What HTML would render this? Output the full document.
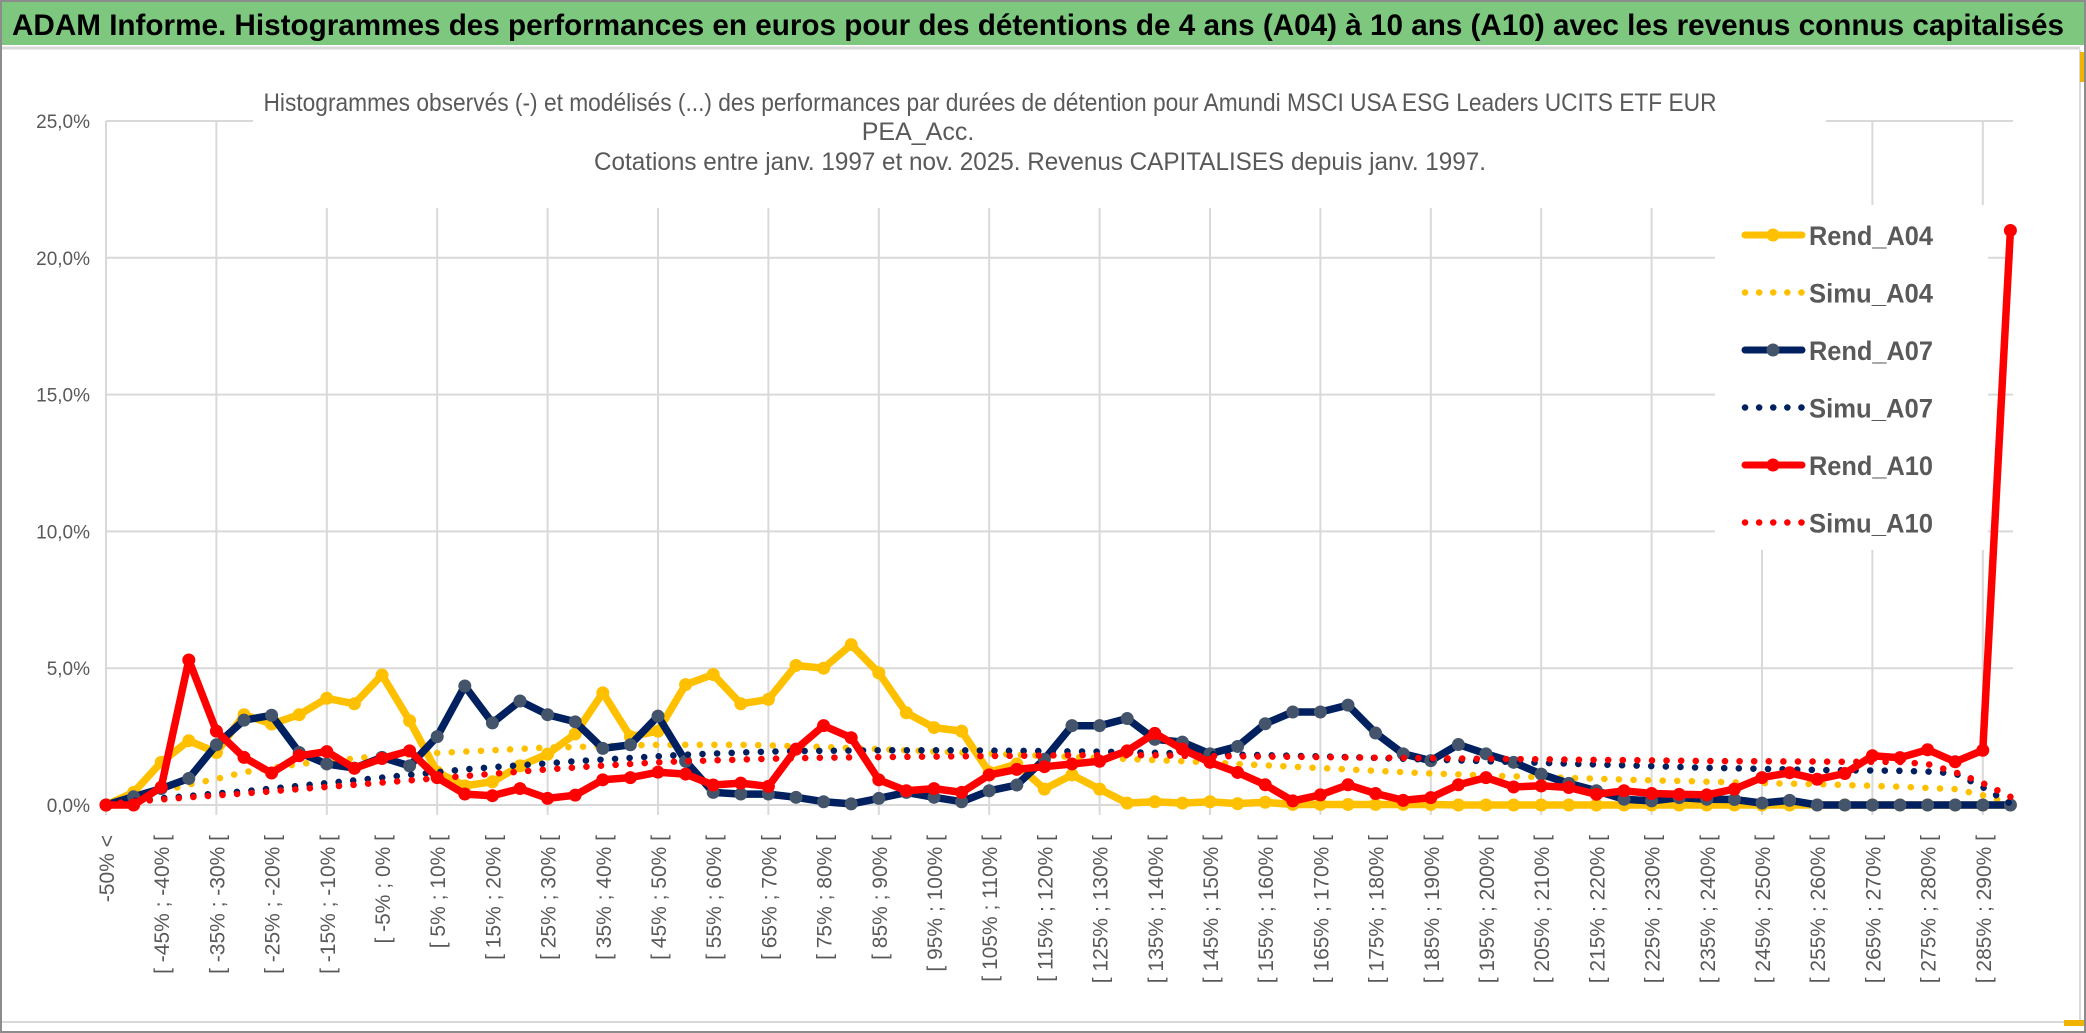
<!DOCTYPE html>
<html><head><meta charset="utf-8">
<style>
html,body{margin:0;padding:0;background:#fff;}
svg{display:block;}
text{font-family:"Liberation Sans",sans-serif;}
</style></head>
<body>
<svg id="chart" width="2086" height="1033" viewBox="0 0 2086 1033" xmlns="http://www.w3.org/2000/svg">
  <rect x="0" y="0" width="2086" height="1033" fill="#fff"/>
  <rect x="1" y="1" width="2084" height="1031" fill="none" stroke="#8c8c8c" stroke-width="2"/>
  <rect x="2" y="2" width="2082" height="43" fill="#7dc87e"/>
  <line x1="2" y1="48" x2="2080" y2="48" stroke="#d9d9d9" stroke-width="3"/>
  <text x="12" y="35" font-size="30" font-weight="bold" fill="#000" textLength="2052" lengthAdjust="spacingAndGlyphs">ADAM Informe. Histogrammes des performances en euros pour des détentions de 4 ans (A04) à 10 ans (A10) avec les revenus connus capitalisés</text>
  <line x1="2080" y1="50" x2="2080" y2="1022" stroke="#d9d9d9" stroke-width="2"/>
  <line x1="2" y1="1022" x2="2080" y2="1022" stroke="#d9d9d9" stroke-width="2"/>
  <rect x="2080" y="52" width="4" height="30" fill="#f0b400"/>
  <rect x="2064" y="1020" width="20" height="6" fill="#f0b400"/>
  <g id="grid"></g>
  <rect x="253" y="55" width="1573" height="153" fill="#fff"/>
  <text x="990" y="111" font-size="25" fill="#595959" text-anchor="middle" textLength="1453" lengthAdjust="spacingAndGlyphs">Histogrammes observés (-) et modélisés (...) des performances par durées de détention pour Amundi MSCI USA ESG Leaders UCITS ETF EUR</text>
  <text x="918" y="140" font-size="25" fill="#595959" text-anchor="middle">PEA_Acc.</text>
  <text x="1040" y="170" font-size="25" fill="#595959" text-anchor="middle" textLength="892" lengthAdjust="spacingAndGlyphs">Cotations entre janv. 1997 et nov. 2025. Revenus CAPITALISES depuis janv. 1997.</text>
  <g id="yticks"></g>
  <g id="xticks"></g>
  <g id="series"></g>
  <rect x="1715" y="205" width="273" height="345" fill="#fff"/>
  <g id="legend"></g>
</svg>
<script>
const categories = ["-50% <"];
for (let k = 1; k < 70; k++) {
  const a = -50 + 5 * (k - 1);
  categories.push("[ " + a + "% ; " + (a + 5) + "% [");
}
const yTicks = [0, 5, 10, 15, 20, 25];
const yTickLabels = ["0,0%", "5,0%", "10,0%", "15,0%", "20,0%", "25,0%"];
const seriesNames = ["Rend_A04", "Simu_A04", "Rend_A07", "Simu_A07", "Rend_A10", "Simu_A10"];

const rendA04 = [0,0.46,1.56,2.35,1.92,3.3,2.96,3.3,3.9,3.7,4.75,3.08,1.2,0.7,0.85,1.43,1.86,2.6,4.1,2.5,2.7,4.4,4.77,3.7,3.86,5.1,5.0,5.86,4.83,3.37,2.83,2.7,1.2,1.5,0.58,1.1,0.58,0.07,0.12,0.07,0.12,0.05,0.1,0.02,0.02,0.02,0.02,0.02,0.02,0,0,0,0,0,0,0,0,0,0,0,0,0,0,0,0,0,0,0,0,0];
const simuA04 = [0.05,0.25,0.5,0.75,0.95,1.2,1.35,1.5,1.6,1.7,1.8,1.85,1.9,1.95,2.0,2.05,2.1,2.12,2.15,2.18,2.2,2.2,2.2,2.2,2.18,2.15,2.12,2.08,2.04,2.0,1.96,1.92,1.88,1.84,1.8,1.76,1.72,1.68,1.64,1.6,1.56,1.5,1.45,1.4,1.35,1.3,1.25,1.2,1.15,1.12,1.08,1.05,1.02,0.99,0.96,0.93,0.9,0.88,0.85,0.83,0.8,0.78,0.76,0.73,0.7,0.67,0.62,0.58,0.36,0.05];
const rendA07 = [0,0.3,0.6,0.97,2.2,3.1,3.28,1.92,1.5,1.35,1.74,1.43,2.5,4.35,3.0,3.8,3.3,3.04,2.07,2.2,3.25,1.6,0.46,0.4,0.4,0.28,0.12,0.04,0.24,0.46,0.28,0.12,0.52,0.73,1.67,2.9,2.9,3.16,2.4,2.3,1.87,2.14,2.97,3.4,3.4,3.65,2.63,1.87,1.62,2.21,1.87,1.56,1.13,0.79,0.52,0.21,0.15,0.27,0.21,0.2,0.07,0.17,0,0,0,0,0,0,0,0];
const simuA07 = [0.05,0.15,0.25,0.33,0.42,0.5,0.6,0.7,0.8,0.9,1.0,1.1,1.2,1.3,1.38,1.45,1.52,1.6,1.66,1.72,1.78,1.84,1.88,1.92,1.95,1.97,1.98,1.99,2.0,2.0,2.0,2.0,1.99,1.98,1.97,1.96,1.95,1.93,1.91,1.88,1.86,1.84,1.82,1.8,1.78,1.75,1.72,1.69,1.66,1.63,1.6,1.57,1.54,1.51,1.48,1.45,1.42,1.39,1.36,1.34,1.32,1.3,1.28,1.27,1.26,1.25,1.22,1.15,0.65,0.05];
const rendA10 = [0,0,0.65,5.3,2.7,1.74,1.17,1.8,1.95,1.34,1.7,1.98,1.0,0.4,0.34,0.6,0.24,0.36,0.92,1.0,1.2,1.13,0.73,0.8,0.68,2.04,2.9,2.46,0.92,0.52,0.6,0.46,1.1,1.3,1.4,1.5,1.6,1.98,2.62,2.04,1.56,1.19,0.74,0.15,0.37,0.74,0.42,0.17,0.27,0.74,1.0,0.66,0.7,0.64,0.39,0.52,0.42,0.39,0.37,0.58,1.0,1.18,0.94,1.15,1.8,1.73,2.02,1.58,2.0,21.0];
const simuA10 = [0.05,0.12,0.2,0.28,0.35,0.42,0.5,0.58,0.66,0.74,0.82,0.9,0.98,1.06,1.14,1.22,1.3,1.37,1.44,1.5,1.56,1.6,1.63,1.66,1.69,1.71,1.73,1.74,1.75,1.76,1.77,1.78,1.79,1.8,1.81,1.82,1.82,1.82,1.82,1.8,1.79,1.78,1.77,1.76,1.75,1.74,1.73,1.72,1.71,1.7,1.69,1.68,1.67,1.66,1.65,1.64,1.63,1.62,1.61,1.6,1.6,1.59,1.59,1.58,1.58,1.57,1.5,1.2,0.8,0.3];

const NS = "http://www.w3.org/2000/svg";
const X0 = 106, STEP = 27.6, Y0 = 805, PXP = 27.36, XR = 2013;
function xs(i) { return X0 + i * STEP; }
function ys(v) { return Y0 - v * PXP; }
function mk(tag, attrs, parent) {
  const e = document.createElementNS(NS, tag);
  for (const k in attrs) e.setAttribute(k, attrs[k]);
  parent.appendChild(e);
  return e;
}

const grid = document.getElementById("grid");
yTicks.forEach(function (t) {
  const l = mk("line", {x1: X0, x2: XR, y1: ys(t), y2: ys(t), stroke: "#d9d9d9", "stroke-width": 2}, grid);
  
  
});
for (let i = 4; i < categories.length; i += 4) {
  const l = mk("line", {x1: xs(i), x2: xs(i), y1: ys(25), y2: Y0 + 10, stroke: "#d9d9d9", "stroke-width": 2}, grid);
  
  
}
const yaxis = mk("line", {x1: X0, x2: X0, y1: ys(25), y2: Y0 + 10, stroke: "#d9d9d9", "stroke-width": 2}, grid);



const yt = document.getElementById("yticks");
yTicks.forEach(function (t, k) {
  const tx = mk("text", {x: 90, y: ys(t) + 7, "font-size": 19, fill: "#595959", "text-anchor": "end"}, yt);
  tx.textContent = yTickLabels[k];
  
  
});

const xt = document.getElementById("xticks");
for (let i = 0; i < categories.length; i += 2) {
  const x = xs(i) + 8;
  const tx = mk("text", {x: x, y: 835, "font-size": 21, fill: "#595959", "text-anchor": "end", transform: "rotate(-90 " + x + " 835)"}, xt);
  tx.textContent = categories[i];
  
  
}

const sg = document.getElementById("series");
function pts(arr) { return arr.map(function (v, i) { return xs(i).toFixed(1) + "," + ys(v).toFixed(1); }).join(" "); }
function solid(arr, color, mcolor, name) {
  const g = mk("g", {}, sg);
  
  
  const pl = mk("polyline", {points: pts(arr), fill: "none", stroke: color, "stroke-width": 7.5, "stroke-linejoin": "round", "stroke-linecap": "round"}, g);
  
  
  arr.forEach(function (v, i) {
    const c = mk("circle", {cx: xs(i), cy: ys(v), r: 6.5, fill: mcolor}, g);
    
    
  });
}
function dotted(arr, color, name) {
  const pl = mk("polyline", {points: pts(arr), fill: "none", stroke: color, "stroke-width": 6.5, "stroke-linecap": "round", "stroke-dasharray": "0.1 14.5"}, sg);
  
  
}
solid(rendA04, "#ffc000", "#ffc000", "rend-a04");
dotted(simuA04, "#ffc000", "simu-a04");
solid(rendA07, "#002060", "#44546a", "rend-a07");
dotted(simuA07, "#002060", "simu-a07");
solid(rendA10, "#ff0000", "#ff0000", "rend-a10");
dotted(simuA10, "#ff0000", "simu-a10");

const lg = document.getElementById("legend");
const legColors = ["#ffc000", "#ffc000", "#002060", "#002060", "#ff0000", "#ff0000"];
const legMarker = ["#ffc000", null, "#44546a", null, "#ff0000", null];
seriesNames.forEach(function (n, k) {
  const y = 235 + k * 57.5;
  const g = mk("g", {}, lg);
  
  
  if (legMarker[k]) {
    mk("line", {x1: 1745, x2: 1802, y1: y, y2: y, stroke: legColors[k], "stroke-width": 7, "stroke-linecap": "round"}, g);
    mk("circle", {cx: 1773, cy: y, r: 6.5, fill: legMarker[k]}, g);
  } else {
    mk("line", {x1: 1745, x2: 1802, y1: y, y2: y, stroke: legColors[k], "stroke-width": 6.5, "stroke-linecap": "round", "stroke-dasharray": "0.1 14"}, g);
  }
  const tx = mk("text", {x: 1809, y: y + 10, "font-size": 27, "font-weight": "bold", fill: "#595959", textLength: 124, lengthAdjust: "spacingAndGlyphs"}, g);
  tx.textContent = n;
  
  
});
</script>
</body></html>
